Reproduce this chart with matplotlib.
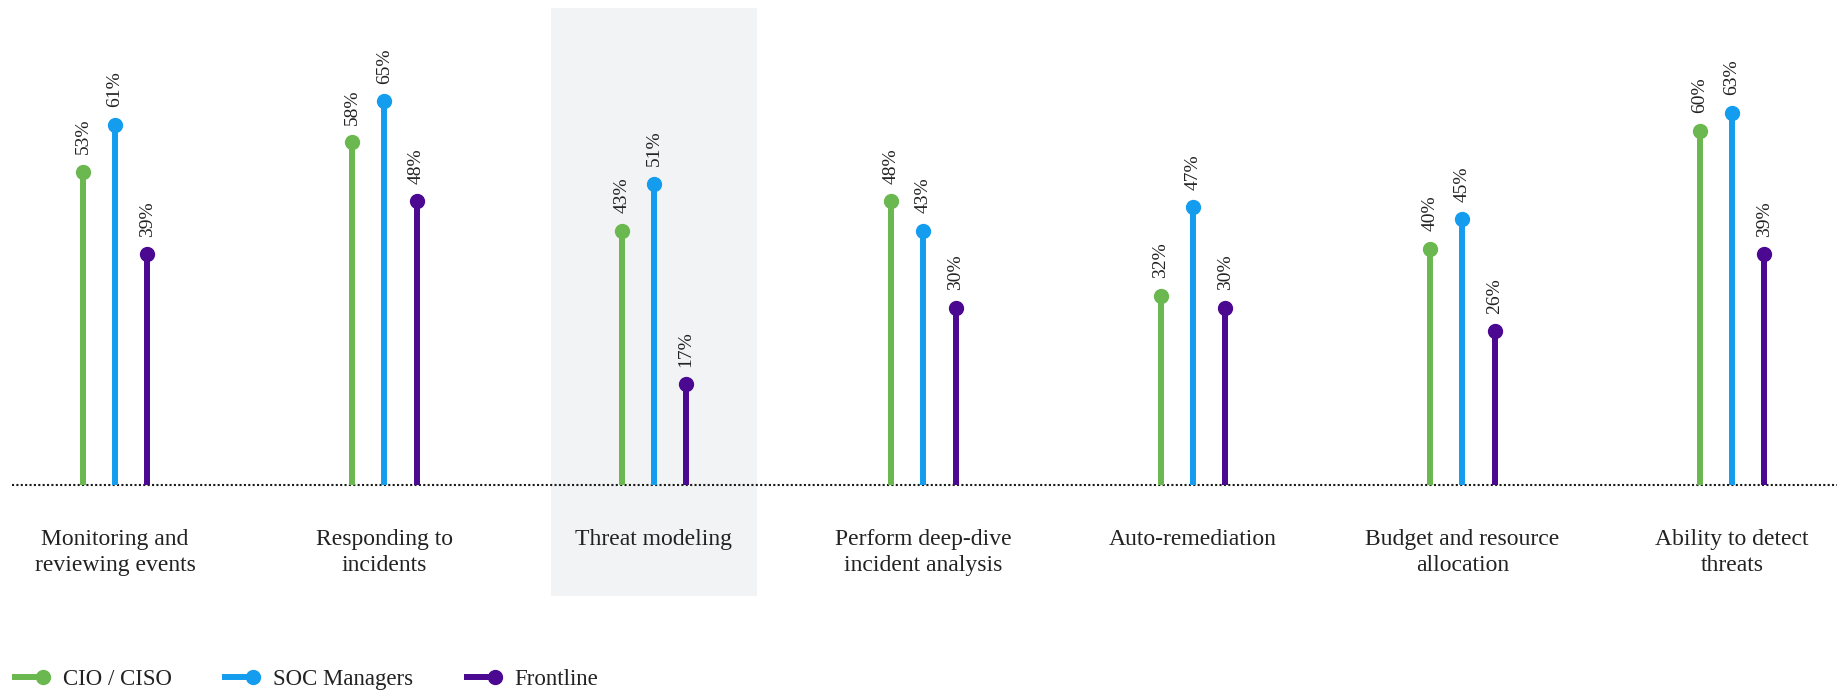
import numpy as np
import matplotlib
matplotlib.use('Agg')
import matplotlib.pyplot as plt
from matplotlib.lines import Line2D
from matplotlib.patches import Rectangle
from matplotlib.legend_handler import HandlerBase

categories = ['Monitoring and\nreviewing events', 'Responding to\nincidents', 'Threat modeling',
              'Perform deep-dive\nincident analysis', 'Auto-remediation',
              'Budget and resource\nallocation', 'Ability to detect\nthreats']
cio = [53, 58, 43, 48, 32, 40, 60]
soc = [61, 65, 51, 43, 47, 45, 63]
frontline = [39, 48, 17, 30, 30, 26, 39]
series = ['CIO / CISO', 'SOC Managers', 'Frontline']
highlight = 'Threat modeling'

colors = ['#6ab84f', '#149dee', '#4b0890']
text_col = '#222222'
stem_lw = 4.3
dot_size = 10

plt.rcParams['font.family'] = ['Liberation Serif', 'DejaVu Serif']


class DotEndHandler(HandlerBase):
    # legend key: a short stem with the dot at its right end
    def create_artists(self, legend, orig_handle, xdescent, ydescent, width, height, fontsize, trans):
        y = (height - ydescent) / 2
        col = orig_handle.get_color()
        line = Line2D([-xdescent, width - xdescent], [y, y], color=col, lw=stem_lw,
                      solid_capstyle='butt', transform=trans)
        dot = Line2D([width - xdescent], [y], marker='o', ms=dot_size, color=col,
                     lw=0, transform=trans)
        return [line, dot]


fig = plt.figure(figsize=(18.45, 6.91), dpi=100)
ax = fig.add_axes([0, 0, 1, 1])
# groups are 269.5 px apart, 5.9 px per percentage point, baseline 206.5 px from bottom
ax.set_xlim(-115 / 269.5, (1845 - 115) / 269.5)
ax.set_ylim(-206.5 / 5.9, (691 - 206.5) / 5.9)
ax.axis('off')

hi = categories.index(highlight)
ax.add_patch(Rectangle((hi - 0.382, -18.9), 0.764, 99.7, facecolor='#f2f3f5',
                       edgecolor='none', zorder=0))

# dotted baseline
ax.plot([-0.382, 6.39], [0, 0], color='#1a1a1a', lw=1.5, ls=(0, (1, 1.1)),
        dash_capstyle='butt', zorder=2)

offsets = [-0.119, 0, 0.119]
for vals, off, col in zip([cio, soc, frontline], offsets, colors):
    x = np.arange(len(vals)) + off
    ax.vlines(x, 0, vals, color=col, lw=stem_lw, zorder=3)
    ax.plot(x, vals, 'o', ms=dot_size, color=col, zorder=4)
    for xi, v in zip(x, vals):
        ax.annotate(f'{v}%', (xi, v), xytext=(0, 12.5), textcoords='offset points',
                    rotation=90, ha='center', va='bottom', fontsize=14, color=text_col)

for i, cat in enumerate(categories):
    ax.text(i, -7.5, cat, ha='center', va='top', fontsize=17, color=text_col,
            linespacing=1.33)

handles = [Line2D([], [], color=c, label=s) for s, c in zip(series, colors)]
ax.legend(handles=handles, handler_map={Line2D: DotEndHandler()}, ncol=3, frameon=False,
          loc='center left', bbox_to_anchor=(12 / 1845, 12 / 691), bbox_transform=fig.transFigure,
          borderpad=0, borderaxespad=0, fontsize=16.5, handlelength=1.35, handletextpad=0.87,
          columnspacing=2.2, labelcolor=text_col)

fig.savefig('out.png', dpi=100)
